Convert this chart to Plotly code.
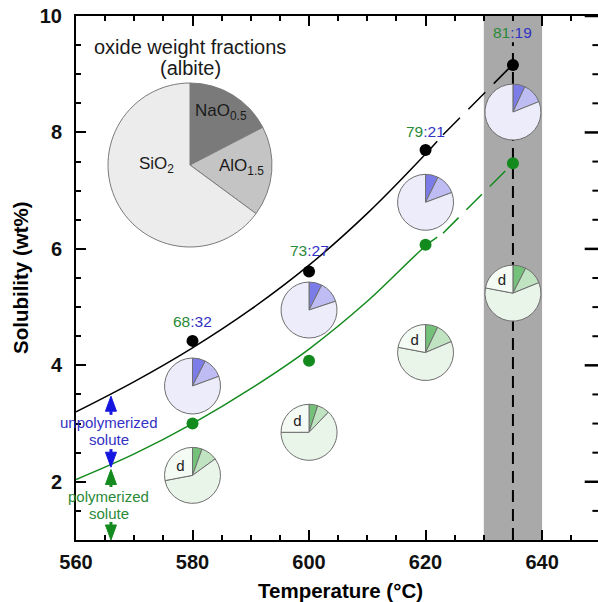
import plotly.graph_objects as go

# ---------------- data ----------------
temps = [580, 600, 620, 635]
total_sol = [4.42, 5.61, 7.70, 9.16]      # black points (total solubility)
poly_sol = [3.00, 4.08, 6.07, 7.47]       # green points (polymerized solute)
ratio_poly = [68, 73, 79, 81]
ratio_unpoly = [32, 27, 21, 19]

fit_total_T = [560, 570, 580, 590, 600, 610, 620, 622]
fit_total_y = [3.20, 3.72, 4.30, 4.96, 5.72, 6.61, 7.63, 7.85]
ext_total_T = [623.0, 634.3]
ext_total_y = [7.96, 9.10]

fit_poly_T = [560, 570, 580, 590, 600, 610, 620, 622]
fit_poly_y = [2.04, 2.48, 3.00, 3.60, 4.28, 5.10, 6.05, 6.20]
ext_poly_T = [623.0, 634.3]
ext_poly_y = [6.27, 7.40]

band_T = [630, 640]
dash_T = 635

oxide_labels = ["NaO<sub>0.5</sub>", "AlO<sub>1.5</sub>", "SiO<sub>2</sub>"]
oxide_frac = [17.4, 17.7, 64.9]

# unpolymerized solute pies: NaO0.5, AlO1.5, SiO2
unpoly_pies = [[7.5, 11.9, 80.6], [7.5, 12.4, 80.1], [7.3, 12.0, 80.7], [7.0, 11.9, 81.1]]
# polymerized solute pies: NaO0.5, AlO1.5, SiO2, d
poly_pies = [[5.5, 9.5, 57.0, 28.0], [5.0, 7.2, 62.8, 25.0], [7.1, 11.5, 59.4, 22.0], [7.5, 11.4, 59.1, 22.0]]

y_major = [2, 4, 6, 8, 10]
y_minor = [v / 2 for v in range(3, 20) if v % 4 != 0]

# ---------------- layout constants ----------------
W, H = 598, 602
ML, MR, MT, MB = 76, 0, 16, 62
PW, PH = W - ML - MR, H - MT - MB
XR = [560, 649.6]
YR = [1, 10]
px_per_x = PW / (XR[1] - XR[0])
px_per_y = PH / (YR[1] - YR[0])

GREEN = "#138a1e"
GREEN_T = "#2a8a38"
BLUE = "#1515e0"
BLUE_T = "#3232c4"
FONT = "Liberation Sans"

pie_upper_y = [3.645, 4.95, 6.80, 8.35]
pie_lower_y = [2.11, 2.85, 4.22, 5.24]
pie_r = 28
label_shift = [19, 21, 18, 32]

def xf(t):
    return (t - XR[0]) / (XR[1] - XR[0])

def yf(v):
    return (v - YR[0]) / (YR[1] - YR[0])

fig = go.Figure()

# vertical dashed line at 635
fig.add_trace(go.Scatter(x=[dash_T, dash_T], y=[YR[0], 9.55], mode="lines",
                         line=dict(color="black", width=2, dash="12px,7px"),
                         hoverinfo="skip", showlegend=False))

# fits
fig.add_trace(go.Scatter(x=fit_total_T, y=fit_total_y, mode="lines", line_shape="spline",
                         line=dict(color="black", width=1.5), showlegend=False))
fig.add_trace(go.Scatter(x=ext_total_T, y=ext_total_y, mode="lines",
                         line=dict(color="black", width=1.5, dash="24px,12px"), showlegend=False))
fig.add_trace(go.Scatter(x=fit_poly_T, y=fit_poly_y, mode="lines", line_shape="spline",
                         line=dict(color=GREEN, width=1.5), showlegend=False))
fig.add_trace(go.Scatter(x=ext_poly_T, y=ext_poly_y, mode="lines",
                         line=dict(color=GREEN, width=1.5, dash="22px,11px"), showlegend=False))

# points
fig.add_trace(go.Scatter(x=temps, y=total_sol, mode="markers",
                         marker=dict(color="black", size=12), showlegend=False))
fig.add_trace(go.Scatter(x=temps, y=poly_sol, mode="markers",
                         marker=dict(color=GREEN, size=12), showlegend=False))

# arrows (stems + heads)
arrow_T = 566
arrows = [(3.47, 3.15, BLUE), (2.25, 2.56, BLUE), (2.21, 1.91, GREEN), (1.00, 1.31, GREEN)]
head_len = 15 / px_per_y
head_hw = 5.5 / px_per_x
for tip, tail, col in arrows:
    sgn = 1 if tip > tail else -1
    base = tip - sgn * head_len
    fig.add_trace(go.Scatter(x=[arrow_T, arrow_T], y=[tail, base], mode="lines",
                             line=dict(color=col, width=3), showlegend=False, hoverinfo="skip"))
    fig.add_trace(go.Scatter(x=[arrow_T - head_hw, arrow_T, arrow_T + head_hw, arrow_T - head_hw],
                             y=[base, tip, base, base], mode="lines", fill="toself",
                             fillcolor=col, line=dict(color=col, width=1),
                             showlegend=False, hoverinfo="skip"))

# right-hand inward ticks (the right frame edge lies just outside the picture)
fig.add_trace(go.Scatter(x=[XR[1]] * len(y_major), y=y_major, mode="markers", cliponaxis=False,
                         marker=dict(symbol="line-ew", size=19, color="black",
                                     line=dict(color="black", width=2.5)),
                         showlegend=False, hoverinfo="skip"))
fig.add_trace(go.Scatter(x=[XR[1]] * len(y_minor), y=y_minor, mode="markers", cliponaxis=False,
                         marker=dict(symbol="line-ew", size=8, color="black",
                                     line=dict(color="black", width=2)),
                         showlegend=False, hoverinfo="skip"))

# small pies
hx = pie_r / PW
hy = pie_r / PH
for i, t in enumerate(temps):
    cx = xf(t)
    cy = yf(pie_upper_y[i])
    fig.add_trace(go.Pie(values=unpoly_pies[i], sort=False, direction="clockwise", rotation=0,
                         marker=dict(colors=["#7c7ce8", "#bdbdf3", "#ececfb"],
                                     line=dict(color="#6e6e6e", width=1)),
                         textinfo="none", hoverinfo="skip", showlegend=False,
                         domain=dict(x=[cx - hx, cx + hx], y=[cy - hy, cy + hy])))
    cy2 = yf(pie_lower_y[i])
    fig.add_trace(go.Pie(values=poly_pies[i], sort=False, direction="clockwise", rotation=0,
                         marker=dict(colors=["#74c27a", "#c0e4c1", "#eaf5ea", "#f4faf4"],
                                     line=dict(color="#6e6e6e", width=1)),
                         text=["", "", "", "d"], textinfo="text", textposition="inside",
                         insidetextorientation="horizontal",
                         textfont=dict(family=FONT, size=15, color="#222"),
                         hoverinfo="skip", showlegend=False,
                         domain=dict(x=[cx - hx, cx + hx], y=[cy2 - hy, cy2 + hy])))

# inset pie
icx, icy, ir = (190 - ML) / PW, (MT + PH - 165) / PH, 82
fig.add_trace(go.Pie(values=oxide_frac, labels=oxide_labels, sort=False, direction="clockwise",
                     rotation=0, marker=dict(colors=["#7a7a7a", "#c4c4c4", "#ececec"],
                                             line=dict(color="#7a7a7a", width=1)),
                     textinfo="none", hoverinfo="skip", showlegend=False,
                     domain=dict(x=[icx - ir / PW, icx + ir / PW], y=[icy - ir / PH, icy + ir / PH])))

ann = []
# ratio labels
for i, t in enumerate(temps):
    ann.append(dict(x=t, y=total_sol[i], xref="x", yref="y", yshift=label_shift[i], showarrow=False,
                    xanchor="center", yanchor="middle",
                    text=f"<span style='color:{GREEN_T}'>{ratio_poly[i]}</span>"
                         f"<span style='color:{BLUE_T}'>:{ratio_unpoly[i]}</span>",
                    font=dict(family=FONT, size=15.5)))
# solute labels
for txt, yv, col in [("unpolymerized", 3.015, BLUE_T), ("solute", 2.725, BLUE_T),
                     ("polymerized", 1.745, GREEN_T), ("solute", 1.455, GREEN_T)]:
    ann.append(dict(x=565.6, y=yv, xref="x", yref="y", showarrow=False, text=txt,
                    xanchor="center", yanchor="middle",
                    font=dict(family=FONT, size=15, color=col)))
# inset title and labels
for txt, px, py, fs in [("oxide weight fractions", 190, 47, 20), ("(albite)", 190, 68, 20),
                        ("NaO<sub>0.5</sub>", 221, 112, 17), ("AlO<sub>1.5</sub>", 241, 167, 17),
                        ("SiO<sub>2</sub>", 156, 165, 17)]:
    ann.append(dict(x=(px - ML) / PW, y=(MT + PH - py) / PH, xref="paper", yref="paper",
                    xanchor="center", yanchor="middle",
                    showarrow=False, text=txt, font=dict(family=FONT, size=fs, color="#1a1a1a")))
# axis titles
ann.append(dict(x=(340 - ML) / PW, y=(MT + PH - 590) / PH, xref="paper", yref="paper",
                xanchor="center", yanchor="middle",
                showarrow=False, text="Temperature (°C)",
                font=dict(family=FONT, size=20.5, color="black", weight="bold")))
ann.append(dict(x=(20 - ML) / PW, y=(MT + PH - 278) / PH, xref="paper", yref="paper",
                xanchor="center", yanchor="middle",
                showarrow=False, text="Solubility (wt%)", textangle=-90,
                font=dict(family=FONT, size=20.5, color="black", weight="bold")))

axis_common = dict(showline=True, linecolor="black", linewidth=2,
                   ticks="inside", ticklen=10, tickwidth=2, tickcolor="black",
                   showgrid=False, zeroline=False,
                   tickfont=dict(family=FONT, size=20, color="#111", weight="bold"))

fig.update_layout(
    width=W, height=H, margin=dict(l=ML, r=MR, t=MT, b=MB),
    paper_bgcolor="white", plot_bgcolor="white",
    xaxis=dict(range=XR, tick0=560, dtick=20, ticklabelstandoff=3, mirror="ticks",
               minor=dict(dtick=5, ticklen=5, tickwidth=1.5, ticks="inside", tickcolor="black"),
               **axis_common),
    yaxis=dict(range=YR, tick0=0, dtick=2, ticklabelstandoff=8, mirror=False,
               minor=dict(dtick=0.5, ticklen=5, tickwidth=1.5, ticks="inside", tickcolor="black"),
               **axis_common),
    shapes=[dict(type="rect", xref="x", yref="y", x0=band_T[0], x1=band_T[1], y0=YR[0], y1=YR[1],
                 fillcolor="#a9a9a9", line=dict(width=0), layer="below")],
    annotations=ann,
)

fig.write_html("out.html")
